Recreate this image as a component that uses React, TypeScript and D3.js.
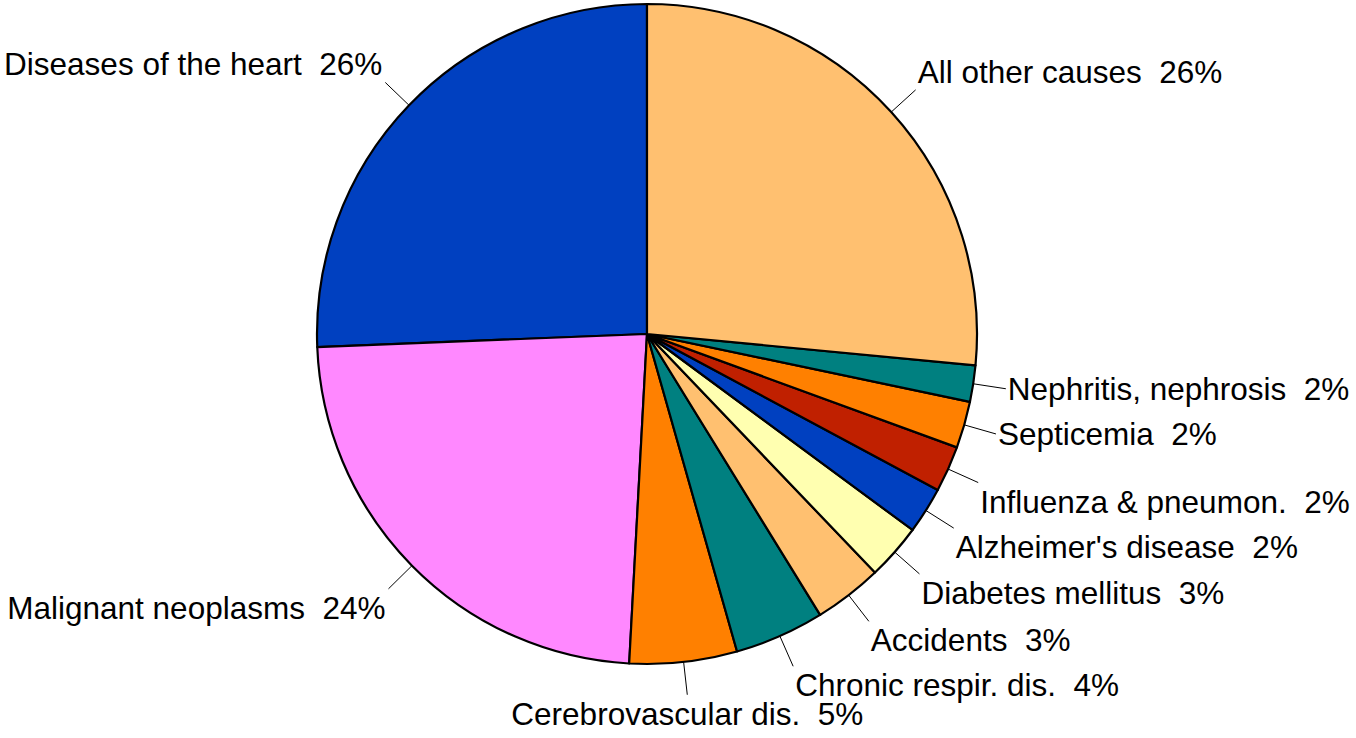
import React from "react";
import * as d3 from "d3";

const categories = [
  "Diseases of the heart",
  "Malignant neoplasms",
  "Cerebrovascular dis.",
  "Chronic respir. dis.",
  "Accidents",
  "Diabetes mellitus",
  "Alzheimer's disease",
  "Influenza & pneumon.",
  "Septicemia",
  "Nephritis, nephrosis",
  "All other causes",
];
const values = [25.63, 23.51, 5.26, 4.39, 3.35, 2.74, 2.28, 2.26, 2.28, 1.78, 26.52];
const percentLabels = ["26%", "24%", "5%", "4%", "3%", "3%", "2%", "2%", "2%", "2%", "26%"];
const colors = [
  "#0040C0",
  "#FF88FF",
  "#FF8000",
  "#008080",
  "#FFC070",
  "#FFFFB0",
  "#0040C0",
  "#C02000",
  "#FF8000",
  "#008080",
  "#FFC070",
];

const W = 1356;
const H = 738;
const CX = 647;
const CY = 334;
const R = 330;

export default function App() {
  const pie = d3
    .pie<number>()
    .sort(null)
    .value((d) => d)
    .startAngle(0)
    .endAngle(-2 * Math.PI);
  const arcs = pie(values);
  const arcGen = d3.arc<d3.PieArcDatum<number>>().innerRadius(0).outerRadius(R);

  return (
    <svg
      width={W}
      height={H}
      style={{ position: "absolute", left: 0, top: 0, background: "#fff" }}
      fontFamily="'Liberation Sans', Arial, sans-serif"
    >
      <g transform={`translate(${CX},${CY})`}>
        {arcs.map((a, i) => (
          <path
            key={"s" + i}
            d={arcGen(a) || ""}
            fill={colors[i]}
            stroke="#000"
            strokeWidth={2.2}
            strokeLinejoin="round"
          />
        ))}
        {arcs.map((a, i) => {
          const mid = (a.startAngle + a.endAngle) / 2;
          const sx = Math.sin(mid);
          const sy = -Math.cos(mid);
          const x1 = sx * R;
          const y1 = sy * R;
          const x2 = sx * R * 1.1;
          const y2 = sy * R * 1.1;
          let anchor = "middle";
          let tx = x2;
          if (Math.abs(sx) > 0.2) {
            anchor = sx > 0 ? "start" : "end";
            tx = x2 + (sx > 0 ? 2 : -3);
          }
          let ty;
          if (sy < -0.35) ty = y2 - 7;
          else if (sy > 0.35) ty = y2 + 30;
          else ty = y2 + 11;
          return (
            <g key={"l" + i}>
              <line x1={x1} y1={y1} x2={x2} y2={y2} stroke="#000" strokeWidth={1} />
              <text
                x={tx}
                y={ty}
                textAnchor={anchor}
                fontSize={31.5}
                fill="#000"
                style={{ whiteSpace: "pre" }}
              >
                {`${categories[i]}  ${percentLabels[i]}`}
              </text>
            </g>
          );
        })}
      </g>
    </svg>
  );
}
